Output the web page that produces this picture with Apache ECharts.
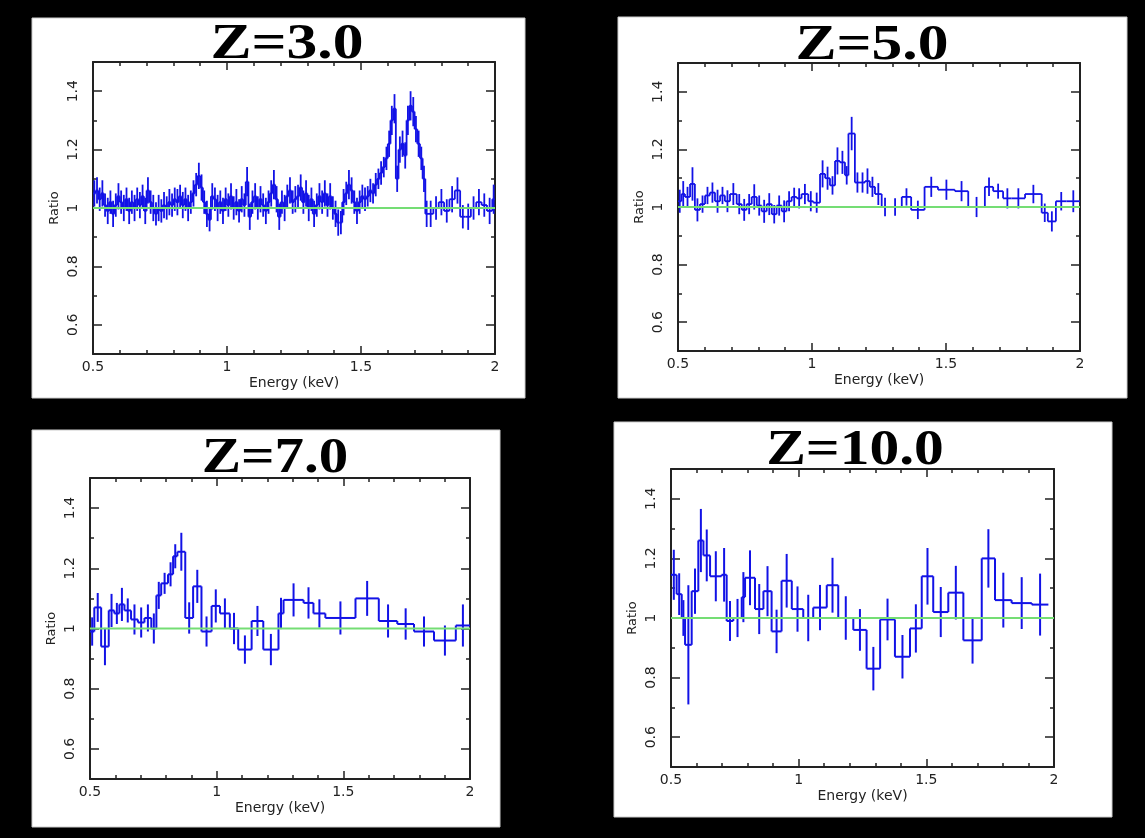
<!DOCTYPE html>
<html><head><meta charset="utf-8">
<script src="https://cdn.jsdelivr.net/npm/echarts@6/dist/echarts.min.js"></script>
<style>html,body{margin:0;padding:0;background:#000;}#c{width:1145px;height:838px;}</style>
</head><body><div id="c"></div>
<script>
// ---------- data ----------
const titles = ['Z=3.0', 'Z=5.0', 'Z=7.0', 'Z=10.0'];
const xTickLabels = ['0.5', '1', '1.5', '2'];
const yTickLabels = ['0.6', '0.8', '1', '1.2', '1.4'];
const yMajorTicks = [0.6, 0.8, 1, 1.2, 1.4];
const modelLine = [[0.5, 1], [2, 1]];

const z3Edges = [0.50,0.51,0.52,0.53,0.54,0.55,0.56,0.57,0.58,0.59,
  0.60,0.61,0.62,0.63,0.64,0.65,0.66,0.67,0.68,0.69,
  0.70,0.71,0.72,0.73,0.74,0.75,0.76,0.77,0.78,0.79,
  0.80,0.81,0.82,0.83,0.84,0.85,0.86,0.87,0.88,0.89,
  0.90,0.91,0.92,0.93,0.94,0.95,0.96,0.97,0.98,0.99,
  1.00,1.01,1.02,1.03,1.04,1.05,1.06,1.07,1.08,1.09,
  1.10,1.11,1.12,1.13,1.14,1.15,1.16,1.17,1.18,1.19,
  1.20,1.21,1.22,1.23,1.24,1.25,1.26,1.27,1.28,1.29,
  1.30,1.31,1.32,1.33,1.34,1.35,1.36,1.37,1.38,1.39,
  1.40,1.41,1.42,1.43,1.44,1.45,1.46,1.47,1.48,1.49,
  1.50,1.51,1.52,1.53,1.54,1.55,1.56,1.57,1.58,1.59,
  1.60,1.61,1.62,1.63,1.64,1.65,1.66,1.67,1.68,1.69,
  1.70,1.71,1.72,1.73,1.74,1.75,
  1.77,1.79,1.81,1.83,1.85,1.87,1.89,1.91,1.93,1.95,1.97,1.99,2.00];
const z3Ratio = [1.05,1.06,1.03,1.05,1.01,0.99,1.02,0.98,1.01,1.04,
  1.02,1.00,1.03,0.99,1.02,1.00,1.03,1.01,1.04,0.99,
  1.06,1.02,1.00,0.98,1.00,0.99,1.01,1.00,1.02,1.01,
  1.03,1.02,1.04,1.01,1.03,1.00,1.02,1.05,1.08,1.11,
  1.07,1.02,0.98,0.96,1.04,1.03,1.00,1.02,0.99,1.03,
  1.01,1.04,1.00,1.02,0.99,1.03,1.01,1.09,0.97,1.02,
  1.04,1.00,1.03,1.01,0.99,1.02,1.05,1.08,1.03,0.97,
  1.02,1.00,1.04,1.06,1.02,1.03,1.04,1.07,1.02,1.05,
  1.00,1.03,0.98,1.01,1.04,1.02,1.05,1.01,1.04,1.00,
  0.98,0.95,0.95,1.02,1.05,1.08,1.06,1.02,0.99,1.02,
  1.04,1.03,1.04,1.06,1.05,1.08,1.10,1.12,1.14,1.17,
  1.22,1.30,1.34,1.10,1.20,1.22,1.18,1.30,1.35,1.33,
  1.27,1.22,1.17,1.10,0.98,
  0.98,1.00,1.02,0.99,1.03,1.06,0.97,0.97,1.00,1.02,1.01,0.99,1.03];
const z3Err = [0.045,0.045,0.04,0.045,0.04,0.045,0.04,0.045,0.04,0.045,
  0.04,0.045,0.04,0.045,0.04,0.045,0.04,0.045,0.04,0.045,
  0.045,0.04,0.045,0.04,0.045,0.04,0.045,0.04,0.045,0.04,
  0.04,0.045,0.04,0.045,0.04,0.045,0.04,0.045,0.04,0.045,
  0.045,0.04,0.045,0.04,0.045,0.04,0.045,0.04,0.045,0.04,
  0.04,0.045,0.04,0.045,0.04,0.045,0.04,0.05,0.045,0.04,
  0.045,0.04,0.045,0.04,0.045,0.04,0.045,0.05,0.045,0.045,
  0.04,0.045,0.04,0.045,0.04,0.045,0.04,0.045,0.04,0.045,
  0.045,0.04,0.045,0.04,0.045,0.04,0.045,0.04,0.045,0.04,
  0.045,0.045,0.04,0.045,0.04,0.05,0.045,0.04,0.045,0.04,
  0.04,0.04,0.035,0.04,0.035,0.04,0.035,0.04,0.035,0.04,
  0.045,0.05,0.05,0.045,0.045,0.045,0.045,0.05,0.05,0.05,
  0.045,0.045,0.04,0.045,0.045,
  0.045,0.04,0.045,0.04,0.045,0.045,0.04,0.045,0.04,0.045,0.04,0.045,0.05];

const z5Edges = [0.5,0.513,0.526,0.545,0.563,0.582,0.601,0.619,0.638,0.657,
  0.675,0.694,0.719,0.738,0.756,0.775,0.794,0.812,0.831,0.85,
  0.868,0.887,0.905,0.924,0.943,0.961,0.986,1.005,1.03,1.049,
  1.067,1.086,1.104,1.123,1.136,1.16,1.179,1.198,1.216,1.235,
  1.26,1.285,1.335,1.37,1.42,1.47,1.533,1.583,1.645,1.676,
  1.713,1.745,1.795,1.857,1.88,1.91,1.95,2.0];
const z5Ratio = [1.02,1.045,1.035,1.08,0.99,1.01,1.04,1.05,1.02,1.04,
  1.02,1.045,1.01,0.99,1.01,1.035,1.005,0.985,1.01,0.975,
  1.005,0.985,1.02,1.035,1.03,1.045,1.02,1.015,1.115,1.10,
  1.075,1.16,1.155,1.11,1.255,1.085,1.085,1.09,1.07,1.045,
  1.0,1.0,1.035,0.99,1.07,1.06,1.055,1.0,1.07,1.055,
  1.03,1.03,1.045,0.98,0.95,1.02,1.02];
const z5Err = [0.04,0.045,0.035,0.058,0.04,0.03,0.03,0.035,0.04,0.03,
  0.038,0.038,0.035,0.038,0.035,0.044,0.035,0.04,0.038,0.032,
  0.035,0.038,0.035,0.032,0.035,0.035,0.035,0.035,0.047,0.04,
  0.032,0.047,0.04,0.032,0.058,0.035,0.035,0.044,0.035,0.038,
  0.032,0.03,0.03,0.032,0.035,0.035,0.035,0.035,0.032,0.026,
  0.035,0.035,0.032,0.032,0.035,0.032,0.038];

const z7Edges = [0.5,0.517,0.544,0.574,0.596,0.616,0.636,0.662,0.689,0.715,
  0.742,0.762,0.781,0.808,0.828,0.845,0.876,0.907,0.94,0.98,
  1.013,1.052,1.085,1.138,1.184,1.244,1.264,1.343,1.382,1.429,
  1.548,1.64,1.713,1.779,1.858,1.944,2.0];
const z7Ratio = [0.99,1.07,0.94,1.06,1.05,1.08,1.06,1.03,1.02,1.035,
  1.0,1.11,1.15,1.18,1.24,1.255,1.035,1.14,0.99,1.075,
  1.05,1.0,0.93,1.025,0.93,1.05,1.095,1.085,1.05,1.035,
  1.1,1.025,1.015,0.99,0.96,1.01];
const z7Err = [0.047,0.048,0.062,0.055,0.035,0.055,0.04,0.05,0.05,0.045,
  0.05,0.045,0.035,0.04,0.04,0.063,0.052,0.055,0.05,0.055,
  0.05,0.052,0.047,0.05,0.052,0.052,0.055,0.052,0.047,0.055,
  0.058,0.055,0.052,0.05,0.05,0.07];

const z10Edges = [0.5,0.522,0.542,0.555,0.581,0.607,0.627,0.653,0.698,0.718,
  0.744,0.777,0.79,0.829,0.862,0.894,0.933,0.973,1.018,1.057,
  1.11,1.155,1.214,1.266,1.319,1.377,1.436,1.482,1.527,1.586,
  1.645,1.717,1.769,1.834,1.913,1.978];
const z10Ratio = [1.145,1.08,1.0,0.91,1.09,1.26,1.21,1.14,1.145,0.99,
  1.0,1.07,1.135,1.03,1.09,0.955,1.125,1.03,1.0,1.035,
  1.11,1.0,0.96,0.83,0.995,0.87,0.965,1.14,1.02,1.085,
  0.925,1.2,1.06,1.05,1.045];
const z10Err = [0.084,0.07,0.06,0.2,0.076,0.106,0.087,0.084,0.09,0.067,
  0.064,0.084,0.092,0.084,0.084,0.073,0.09,0.076,0.078,0.076,
  0.092,0.073,0.07,0.073,0.07,0.073,0.081,0.095,0.084,0.09,
  0.078,0.098,0.092,0.087,0.104];

// ---------- layout ----------
const panels = [
  {x: 32, y: 18, w: 493, h: 380},
  {x: 618, y: 17, w: 509, h: 381},
  {x: 32, y: 430, w: 468, h: 397},
  {x: 614, y: 422, w: 498, h: 395}
];
const grids = [
  {left: 93, top: 62, width: 402, height: 292},
  {left: 678, top: 63, width: 402, height: 288},
  {left: 90, top: 478, width: 380, height: 301},
  {left: 671, top: 469, width: 383, height: 298}
];
const titlePos = [[287, 45], [872, 46], [275, 459], [855, 451]];
const titleScale = [1.23, 1.23, 1.18, 1.19];
const histSets = [
  [z3Edges, z3Ratio, z3Err, 1.8],
  [z5Edges, z5Ratio, z5Err, 1.8],
  [z7Edges, z7Ratio, z7Err, 2],
  [z10Edges, z10Ratio, z10Err, 2]
];

const BLUE = '#1212e6';
const GREEN = '#74dd74';
const AX = '#222';
const FONT = 'DejaVu Sans';

function makeBins(edges, vals, errs) {
  const out = [];
  for (let i = 0; i < vals.length; i++) {
    out.push([edges[i], edges[i + 1], vals[i], errs[i], i > 0 ? vals[i - 1] : vals[i]]);
  }
  return out;
}

function histRenderer(lw) {
  return function (params, api) {
    const lo = api.value(0), hi = api.value(1), v = api.value(2), e = api.value(3), pv = api.value(4);
    const pLo = api.coord([lo, v]);
    const pHi = api.coord([hi, v]);
    const pPrev = api.coord([lo, pv]);
    const mid = (lo + hi) / 2;
    const eTop = api.coord([mid, v + e]);
    const eBot = api.coord([mid, v - e]);
    const style = {stroke: BLUE, lineWidth: lw, fill: null};
    return {
      type: 'group',
      children: [
        {type: 'line', shape: {x1: pPrev[0], y1: pPrev[1], x2: pLo[0], y2: pLo[1]}, style: style},
        {type: 'line', shape: {x1: pLo[0], y1: pLo[1], x2: pHi[0], y2: pHi[1]}, style: style},
        {type: 'line', shape: {x1: eTop[0], y1: eTop[1], x2: eBot[0], y2: eBot[1]}, style: style}
      ]
    };
  };
}

const tickStyle = {color: AX, width: 1.5};
const xAxes = [], yAxes = [], series = [], graphics = [];

panels.forEach(function (p) {
  graphics.push({type: 'rect', z: -10, shape: {x: p.x, y: p.y, width: p.w, height: p.h},
    style: {fill: '#ffffff', stroke: '#cccccc', lineWidth: 1}});
});
titles.forEach(function (t, i) {
  graphics.push({type: 'text', z: 10, x: titlePos[i][0], y: titlePos[i][1], scaleX: titleScale[i],
    style: {text: t, fontFamily: 'Liberation Serif', fontWeight: 'bold', fontSize: 50,
      fill: '#000', align: 'center', verticalAlign: 'middle'}});
});

grids.forEach(function (g, i) {
  const xBase = {
    gridIndex: i, type: 'value', min: 0.5, max: 2, interval: 0.5,
    axisLine: {show: true, onZero: false, lineStyle: {color: AX, width: 2}},
    axisTick: {show: true, inside: true, length: 8, lineStyle: tickStyle},
    minorTick: {show: true, splitNumber: 5, length: 4, lineStyle: tickStyle},
    splitLine: {show: false}, minorSplitLine: {show: false}
  };
  xAxes.push(Object.assign({}, xBase, {
    position: 'bottom',
    axisLabel: {show: true, margin: 6, fontSize: 14, fontFamily: FONT, color: AX,
      formatter: function (v) { const s = String(Math.round(v * 10) / 10); return xTickLabels.includes(s) ? s : ''; }},
    name: 'Energy (keV)', nameLocation: 'middle', nameGap: 22,
    nameTextStyle: {fontSize: 14, fontFamily: FONT, color: AX}
  }));
  xAxes.push(Object.assign({}, xBase, {position: 'top', axisLabel: {show: false}}));

  const yMinor = {
    gridIndex: i, type: 'value', min: 0.5, max: 1.5, interval: 0.1,
    axisLine: {show: true, onZero: false, lineStyle: {color: AX, width: 2}},
    axisTick: {show: true, inside: true, length: 4, lineStyle: tickStyle},
    splitLine: {show: false}
  };
  const yMajor = {
    gridIndex: i, type: 'value', min: 0.5, max: 1.5,
    axisLine: {show: false},
    axisTick: {show: true, inside: true, length: 9, customValues: yMajorTicks, lineStyle: tickStyle},
    axisLabel: {show: false},
    splitLine: {show: false}
  };
  yAxes.push(Object.assign({}, yMinor, {
    position: 'left',
    axisLabel: {show: true, rotate: 90, margin: 13, fontSize: 14, fontFamily: FONT, color: AX,
      formatter: function (v) { const s = String(Math.round(v * 10) / 10); return yTickLabels.includes(s) ? s : ''; }},
    name: 'Ratio', nameLocation: 'middle', nameGap: 32, nameRotate: 90,
    nameTextStyle: {fontSize: 13, fontFamily: FONT, color: AX}
  }));
  yAxes.push(Object.assign({}, yMajor, {position: 'left'}));
  yAxes.push(Object.assign({}, yMinor, {position: 'right', axisLabel: {show: false}}));
  yAxes.push(Object.assign({}, yMajor, {position: 'right'}));

  const hs = histSets[i];
  series.push({
    type: 'custom', xAxisIndex: 2 * i, yAxisIndex: 4 * i,
    data: makeBins(hs[0], hs[1], hs[2]),
    encode: {x: [0, 1], y: 2},
    renderItem: histRenderer(hs[3]),
    silent: true, animation: false, z: 2
  });
  series.push({
    type: 'line', xAxisIndex: 2 * i, yAxisIndex: 4 * i,
    data: modelLine, showSymbol: false, symbol: 'none',
    lineStyle: {color: GREEN, width: 2}, silent: true, animation: false, z: 5
  });
});

const chart = echarts.init(document.getElementById('c'), null, {renderer: 'canvas'});
chart.setOption({
  backgroundColor: '#000000',
  animation: false,
  grid: grids.map(function (g) { return Object.assign({containLabel: false}, g); }),
  xAxis: xAxes,
  yAxis: yAxes,
  series: series,
  graphic: graphics
});
</script>
</body></html>
